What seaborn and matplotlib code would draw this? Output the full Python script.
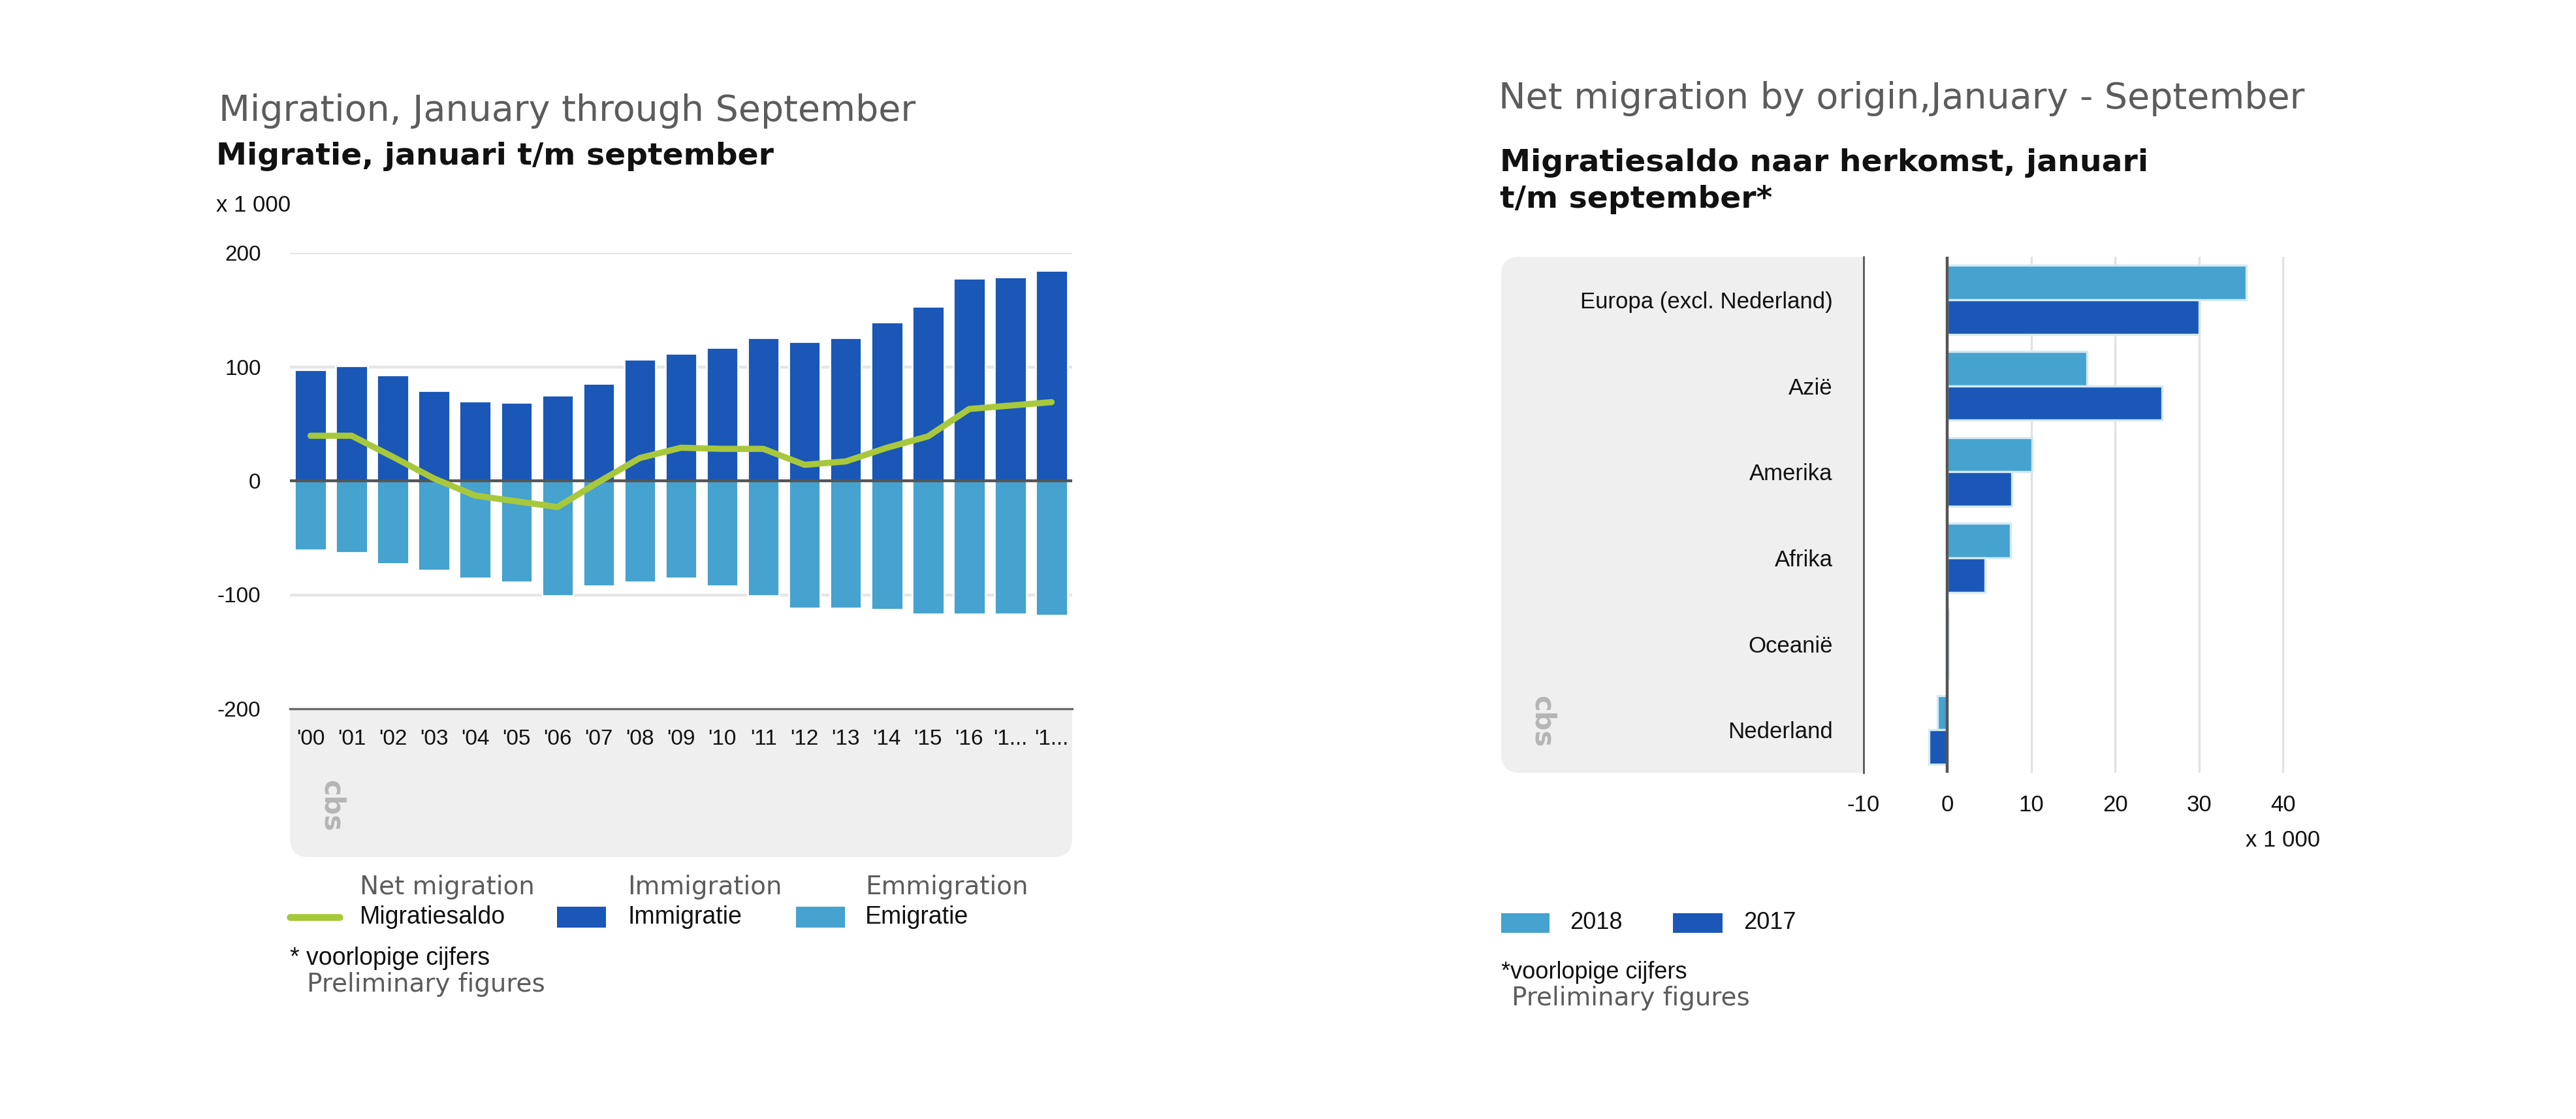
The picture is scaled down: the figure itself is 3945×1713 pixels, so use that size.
import numpy as np
import pandas as pd
import matplotlib
matplotlib.use("Agg")
import matplotlib.pyplot as plt
import seaborn as sns
from matplotlib.patches import FancyBboxPatch, Rectangle
from matplotlib.lines import Line2D

# --- data: migration January through September (x 1 000) ---
years = [str(y) for y in range(2000, 2019)]
year_labels = ["'00", "'01", "'02", "'03", "'04", "'05", "'06", "'07", "'08", "'09",
               "'10", "'11", "'12", "'13", "'14", "'15", "'16", "'1...", "'1..."]
immigration = [97.6, 101, 92.6, 78.8, 70, 68.5, 75.3, 85.6, 106.5, 111.8,
               116.8, 125.6, 122, 125.6, 139.4, 153.2, 177.4, 179, 184.4]
emigration = [-61, -63, -73, -78.5, -85.5, -88.8, -101, -92.4, -88.8, -85.5,
              -92.4, -101, -111.5, -111.5, -113, -116.8, -116.8, -116.8, -118]
net_migration = [39.5, 39.5, 21, 2, -13, -18, -23, -1, 20, 29,
                 28, 28, 14, 17, 29, 39, 63, 66, 69]

# --- data: net migration by origin (x 1 000) ---
origins = ['Europa (excl. Nederland)', 'Azië', 'Amerika', 'Afrika', 'Oceanië', 'Nederland']
saldo_2018 = [35.6, 16.6, 10.1, 7.5, 0.1, -1.2]
saldo_2017 = [30.0, 25.6, 7.7, 4.5, 0.1, -2.2]
series_years = ['2018', '2017']

DARK = '#1a57b7'
LIGHT = '#46a2ce'
GREEN = '#a8c83c'
PANEL = '#efefef'
GREY_TXT = '#5c5c5c'

DUTCH = ['Liberation Sans Narrow', 'Liberation Sans', 'DejaVu Sans']
DUTCH_BOLD = ['DejaVu Sans']
ENGLISH = ['DejaVu Sans']

W, H, DPI = 3945, 1713, 200

sns.set_theme(style='white')
plt.rcParams['font.family'] = DUTCH
plt.rcParams['axes.unicode_minus'] = False


def frect(x0, y0, x1, y1):
    """pixel box (top-left origin) -> figure fraction rect"""
    return [x0 / W, 1 - y1 / H, (x1 - x0) / W, (y1 - y0) / H]


def ftext(x, y, s, **kw):
    kw.setdefault('va', 'center')
    fig.text(x / W, 1 - y / H, s, **kw)


def panel(x0, y0, x1, y1, r=28):
    """rounded grey panel, coordinates in pixels"""
    p = FancyBboxPatch((x0 / DPI, (H - y1) / DPI), (x1 - x0) / DPI, (y1 - y0) / DPI,
                       boxstyle=f'round,pad=0,rounding_size={r / DPI}',
                       transform=fig.dpi_scale_trans, facecolor=PANEL,
                       edgecolor='none', zorder=-1)
    fig.add_artist(p)


def swatch(x0, y0, x1, y1, color):
    fig.add_artist(Rectangle((x0 / W, 1 - y1 / H), (x1 - x0) / W, (y1 - y0) / H,
                             transform=fig.transFigure, facecolor=color,
                             edgecolor='none'))


def logo(x, y):
    ftext(x, y, 'cbs', rotation=270, ha='center', fontsize=15, color='#b5b5b5',
          fontweight='bold', family=ENGLISH)


fig = plt.figure(figsize=(W / DPI, H / DPI), dpi=DPI)

# ================= left chart =================
panel(444, 1040, 1642, 1312)
ax1 = fig.add_axes(frect(444, 387, 1642, 1085))
ax1.set_facecolor('white')

sns.barplot(x=years, y=immigration, color=DARK, saturation=1, width=0.77, ax=ax1, zorder=2)
sns.barplot(x=years, y=emigration, color=LIGHT, saturation=1, width=0.77, ax=ax1, zorder=2)
sns.lineplot(x=np.arange(len(years)), y=net_migration, color=GREEN, linewidth=3.4,
             ax=ax1, zorder=4, legend=False)

ax1.set_ylim(-200, 200)
ax1.set_xlim(-0.5, len(years) - 0.5)
ax1.set_yticks([-200, -100, 0, 100, 200])
ax1.set_xticks(range(len(years)))
ax1.set_xticklabels(year_labels)
for v in (100, 200, -100):
    ax1.axhline(v, color='#e6e6e6', lw=1.6, zorder=1)
ax1.axhline(0, color='#555555', lw=1.6, zorder=3)
for s in ('top', 'right', 'left'):
    ax1.spines[s].set_visible(False)
ax1.spines['bottom'].set_color('#6a6a6a')
ax1.spines['bottom'].set_linewidth(1.2)
ax1.tick_params(axis='y', length=0, pad=16, labelsize=12, labelcolor='#111111')
ax1.tick_params(axis='x', length=0, pad=11, labelsize=12, labelcolor='#111111')
ax1.set_xlabel('')
ax1.set_ylabel('')
ax1.grid(False)

ftext(335, 170, 'Migration, January through September', fontsize=20, color=GREY_TXT,
      family=ENGLISH)
ftext(331, 240, 'Migratie, januari t/m september', fontsize=17, fontweight='bold',
      color='#111111', family=DUTCH_BOLD)
ftext(331, 315, 'x 1 000', fontsize=12.5, color='#111111')
logo(508, 1234)

# legend (English above Dutch)
ftext(551, 1358, 'Net migration', fontsize=14, color=GREY_TXT, family=ENGLISH)
ftext(961, 1358, 'Immigration', fontsize=14, color=GREY_TXT, family=ENGLISH)
ftext(1325, 1358, 'Emmigration', fontsize=14, color=GREY_TXT, family=ENGLISH)
fig.add_artist(Line2D([444 / W, 520 / W], [1 - 1404 / H] * 2, color=GREEN, lw=3.8,
                      transform=fig.transFigure))
ftext(551, 1404, 'Migratiesaldo', fontsize=13.5, color='#111111')
swatch(853, 1388, 928, 1420, DARK)
ftext(961, 1404, 'Immigratie', fontsize=13.5, color='#111111')
swatch(1219, 1388, 1294, 1420, LIGHT)
ftext(1325, 1404, 'Emigratie', fontsize=13.5, color='#111111')
ftext(444, 1467, '* voorlopige cijfers', fontsize=13.5, color='#111111')
ftext(470, 1507, 'Preliminary figures', fontsize=14, color=GREY_TXT, family=ENGLISH)

# ================= right chart =================
panel(2299, 393, 2900, 1183)
ax2 = fig.add_axes(frect(2854, 393, 3504, 1183))
ax2.set_facecolor('white')

df = pd.DataFrame({
    'herkomst': origins * 2,
    'saldo': saldo_2018 + saldo_2017,
    'jaar': ['2018'] * len(origins) + ['2017'] * len(origins),
})
sns.barplot(data=df, y='herkomst', x='saldo', hue='jaar', hue_order=series_years,
            palette={'2018': LIGHT, '2017': DARK}, saturation=1, width=0.8,
            orient='h', edgecolor='#d3e9f5', linewidth=1.2, ax=ax2, zorder=2)
ax2.legend_.remove()
ax2.set_xlim(-10, 40.6)
ax2.set_xticks([-10, 0, 10, 20, 30, 40])
for v in (10, 20, 30, 40):
    ax2.axvline(v, color='#e2e2e2', lw=1.2, zorder=1)
ax2.axvline(0, color='#555555', lw=1.6, zorder=3)
for s in ('top', 'right', 'bottom'):
    ax2.spines[s].set_visible(False)
ax2.spines['left'].set_color('#444444')
ax2.spines['left'].set_linewidth(0.9)
ax2.tick_params(axis='y', length=0, pad=17, labelsize=12.5, labelcolor='#111111')
ax2.tick_params(axis='x', length=0, pad=12, labelsize=12.5, labelcolor='#111111')
ax2.set_xlabel('')
ax2.set_ylabel('')
ax2.grid(False)

ftext(2295, 151, 'Net migration by origin,January - September', fontsize=20,
      color=GREY_TXT, family=ENGLISH)
ftext(2297, 250, 'Migratiesaldo naar herkomst, januari', fontsize=17, fontweight='bold',
      color='#111111', family=DUTCH_BOLD)
ftext(2297, 306, 't/m september*', fontsize=17, fontweight='bold',
      color='#111111', family=DUTCH_BOLD)
ftext(3553, 1287, 'x 1 000', fontsize=12.5, color='#111111', ha='right')
logo(2362, 1105)

swatch(2299, 1398, 2373, 1428, LIGHT)
ftext(2404, 1413, series_years[0], fontsize=13, color='#111111')
swatch(2562, 1398, 2638, 1428, DARK)
ftext(2670, 1413, series_years[1], fontsize=13, color='#111111')
ftext(2299, 1488, '*voorlopige cijfers', fontsize=13, color='#111111')
ftext(2315, 1528, 'Preliminary figures', fontsize=14, color=GREY_TXT, family=ENGLISH)

fig.savefig('out.png', dpi=DPI, facecolor='white')
